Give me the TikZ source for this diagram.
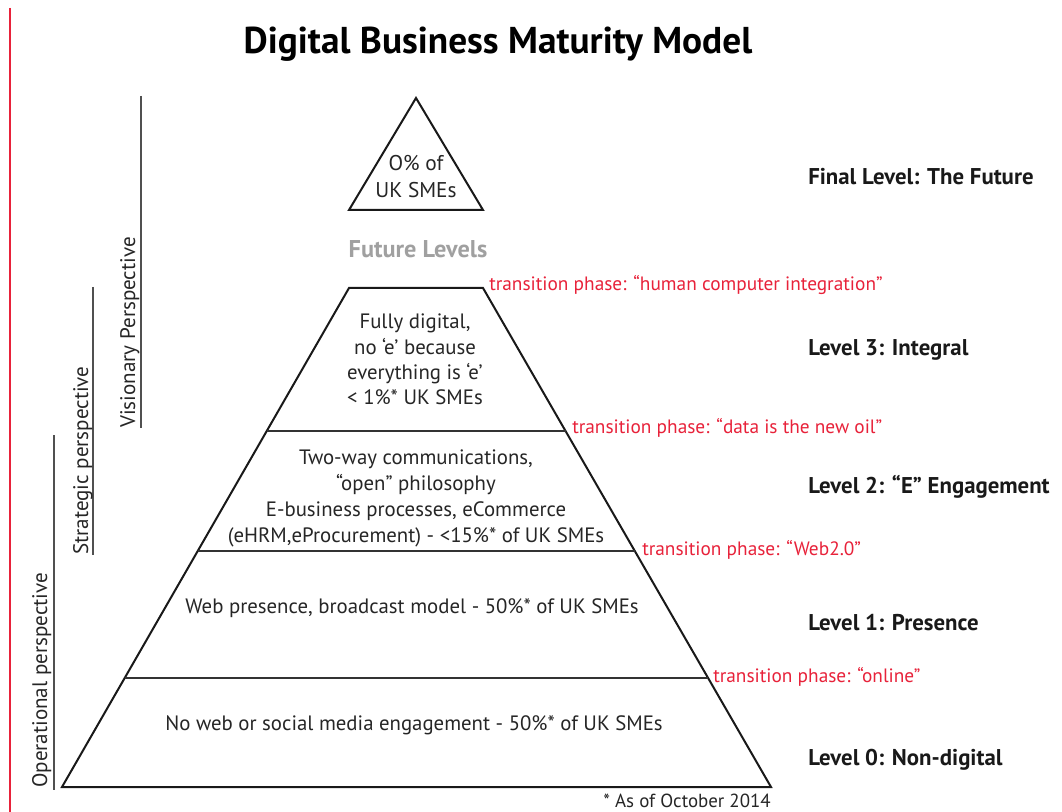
\documentclass[tikz,border=0pt]{standalone}
\usepackage{fontspec}
\setmainfont{PT Sans}
\usetikzlibrary{calc}
\definecolor{phasered}{RGB}{232,34,58}
\definecolor{futuregray}{RGB}{160,160,160}
\definecolor{rulegray}{RGB}{80,80,80}
\begin{document}
\begin{tikzpicture}[x=0.75pt,y=-0.75pt,
  pyr/.style={draw=black!90, line width=1.5pt, line join=miter},
  divider/.style={draw=black!80, line width=1.6pt},
  perspline/.style={draw=rulegray, line width=1.5pt},
  bodytext/.style={font=\fontsize{15.6}{18}\selectfont, text=black!85, inner sep=0pt, anchor=base},
  lvllabel/.style={font=\fontsize{17.1}{20}\selectfont\bfseries, text=black!90, inner sep=0pt, anchor=base west},
  phase/.style={font=\fontsize{14.5}{17}\selectfont, text=phasered, inner sep=0pt, anchor=base west},
  persp/.style={font=\fontsize{15.8}{18}\selectfont, text=black!85, inner sep=0pt, anchor=base west, rotate=90}]
\useasboundingbox (0,0) rectangle (1062,812);
\fill[white] (0,0) rectangle (1062,812);
% margin rule
\draw[phasered, line width=1.5pt] (9.5,8) -- (9.5,812);

% title
\node[font=\fontsize{28}{32}\selectfont\bfseries, inner sep=0pt, anchor=base] (title) at (498,54) {Digital Business Maturity Model};

% apex triangle
\coordinate (ta) at (416,98);
\coordinate (tl) at (349,210);
\coordinate (tr) at (483,210);
\draw[pyr] (ta) -- (tl) -- (tr) -- cycle;
\node[bodytext, font=\fontsize{16}{19}\selectfont] (apexA) at (416,171) {O\% of};
\node[bodytext, font=\fontsize{16}{19}\selectfont] (apexB) at (416,198) {UK SMEs};
\node[font=\fontsize{18.2}{21}\selectfont\bfseries, text=futuregray, inner sep=0pt, anchor=base] (future) at (418,258) {Future Levels};

% main truncated pyramid
\coordinate (bl) at (62,787);
\coordinate (br) at (771,787);
\coordinate (pl) at (349,288);
\coordinate (pr) at (483,288);
\draw[pyr] (bl) -- (br) -- (pr) -- (pl) -- cycle;

% level boundaries
\coordinate (d3l) at ($(bl)!0.7134!(pl)$);
\coordinate (d3r) at ($(br)!0.7134!(pr)$);
\coordinate (d2l) at ($(bl)!0.4729!(pl)$);
\coordinate (d2r) at ($(br)!0.4729!(pr)$);
\coordinate (d1l) at ($(bl)!0.2184!(pl)$);
\coordinate (d1r) at ($(br)!0.2184!(pr)$);
\draw[divider] (d3l) -- (d3r);
\draw[divider] (d2l) -- (d2r);
\draw[divider] (d1l) -- (d1r);

% level contents
\node[bodytext] (l3a) at (415,329) {Fully digital,};
\node[bodytext] (l3b) at (415,354) {no ‘e’ because};
\node[bodytext] (l3c) at (415,379) {everything is ‘e’};
\node[bodytext] (l3d) at (415,404) {< 1\%* UK SMEs};

\node[bodytext] (l2a) at (416,464) {Two-way communications,};
\node[bodytext] (l2b) at (416,490) {“open” philosophy};
\node[bodytext] (l2c) at (416,516) {E-business processes, eCommerce};
\node[bodytext] (l2d) at (416,542) {(eHRM,eProcurement) - <15\%* of UK SMEs};

\node[bodytext] (l1) at (412,613) {Web presence, broadcast model - 50\%* of UK SMEs};
\node[bodytext] (l0) at (414,730) {No web or social media engagement - 50\%* of UK SMEs};

\node[bodytext, anchor=base east, font=\fontsize{14.2}{17}\selectfont] (note) at (771,807) {* As of October 2014};

% transition phases
\node[phase] (t3) at (489,291) {transition phase: “human computer integration”};
\node[phase] (t2) at (572,433) {transition phase: “data is the new oil”};
\node[phase] (t1) at (642,555) {transition phase: “Web2.0”};
\node[phase] (t0) at (713,682) {transition phase: “online”};

% level names
\node[lvllabel] (lvF) at (808,185) {Final Level: The Future};
\node[lvllabel] (lv3) at (808,355) {Level 3: Integral};
\node[lvllabel] (lv2) at (808,493) {Level 2: “E” Engagement};
\node[lvllabel] (lv1) at (808,630) {Level 1: Presence};
\node[lvllabel] (lv0) at (808,765) {Level 0: Non-digital};

% perspectives
\coordinate (opTop) at (54,435);
\coordinate (opBot) at (54,790);
\coordinate (stTop) at (93,287);
\coordinate (stBot) at (93,555);
\coordinate (viTop) at (141,96);
\coordinate (viBot) at (141,428);
\draw[perspline] (opTop) -- (opBot);
\draw[perspline] (stTop) -- (stBot);
\draw[perspline] (viTop) -- (viBot);
\node[persp] (op) at (47,788) {Operational perspective};
\node[persp] (st) at (88,555) {Strategic perspective};
\node[persp] (vi) at (135,428) {Visionary Perspective};
\end{tikzpicture}
\end{document}
